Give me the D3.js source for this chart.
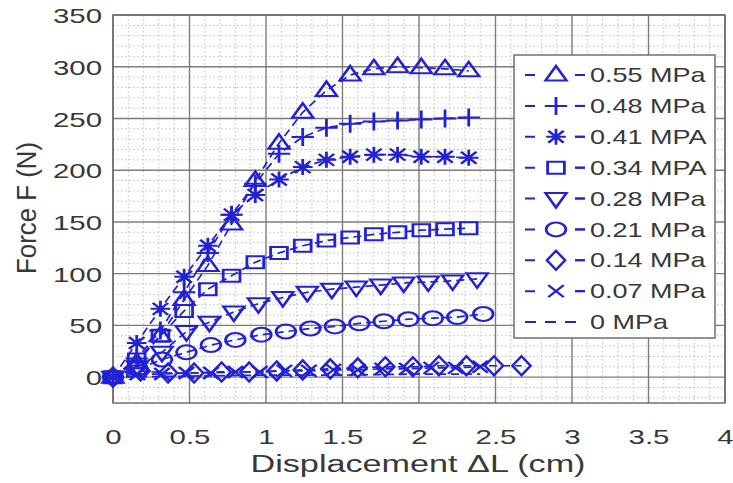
<!DOCTYPE html>
<html><head><meta charset="utf-8">
<script src="https://cdn.jsdelivr.net/npm/d3@7"></script>
<style>body{margin:0;background:#fff}</style>
</head><body>
<svg id="chart" width="733" height="483"></svg>
<script>
// ---- data ----
const xTicks = [0, 0.5, 1, 1.5, 2, 2.5, 3, 3.5, 4];
const xTickLabels = ["0", "0.5", "1", "1.5", "2", "2.5", "3", "3.5", "4"];
const yTicks = [0, 50, 100, 150, 200, 250, 300, 350];
const yTickLabels = ["0", "50", "100", "150", "200", "250", "300", "350"];
const seriesNames = ["0.55 MPa", "0.48 MPa", "0.41 MPA", "0.34 MPA", "0.28 MPa", "0.21 MPa", "0.14 MPa", "0.07 MPa", "0 MPa"];
const seriesMarkers = ["triUp", "plus", "star", "square", "triDown", "circle", "diamond", "cross", "none"];

const x055 = [0, 0.155, 0.31, 0.465, 0.62, 0.775, 0.93, 1.085, 1.24, 1.395, 1.55, 1.705, 1.86, 2.015, 2.17, 2.325];
const y055 = [0, 14, 40, 75, 108, 148, 190, 226, 256, 277, 292, 298, 300, 299, 298, 296];
const x048 = [0, 0.155, 0.31, 0.465, 0.62, 0.775, 0.93, 1.085, 1.24, 1.395, 1.55, 1.705, 1.86, 2.015, 2.17, 2.325];
const y048 = [0, 18, 45, 82, 120, 157, 187, 216, 232, 241, 245, 247, 248, 249, 250, 251];
const x041 = [0, 0.155, 0.31, 0.465, 0.62, 0.775, 0.93, 1.085, 1.24, 1.395, 1.55, 1.705, 1.86, 2.015, 2.17, 2.325];
const y041 = [0, 33, 66, 97, 127, 157, 176, 191, 203, 210, 213, 215, 215, 213, 213, 212];
const x034 = [0, 0.155, 0.31, 0.465, 0.62, 0.775, 0.93, 1.085, 1.24, 1.395, 1.55, 1.705, 1.86, 2.015, 2.17, 2.325];
const y034 = [0, 17, 40, 64, 85, 98, 111, 120, 127, 132, 135, 138, 140, 142, 143, 144];
const x028 = [0, 0.16, 0.32, 0.48, 0.63, 0.79, 0.95, 1.11, 1.27, 1.43, 1.59, 1.75, 1.90, 2.06, 2.22, 2.38];
const y028 = [0, 10, 24, 44, 53, 63, 71, 77, 82, 85, 87, 89, 91, 92, 93, 95];
const x021 = [0, 0.16, 0.32, 0.48, 0.64, 0.80, 0.97, 1.13, 1.29, 1.45, 1.61, 1.77, 1.93, 2.09, 2.25, 2.42];
const y021 = [0, 8, 17, 24, 31, 36, 41, 44, 47, 49, 52, 54, 56, 57, 58, 61];
const x014 = [0, 0.18, 0.36, 0.53, 0.71, 0.89, 1.07, 1.24, 1.42, 1.60, 1.78, 1.96, 2.13, 2.31, 2.49, 2.67];
const y014 = [0, 6, 4, 4, 5, 5, 6, 7, 8, 9, 10, 10, 11, 11, 11, 11];
const x007 = [0, 0.16, 0.32, 0.48, 0.64, 0.80, 0.96, 1.12, 1.28, 1.44, 1.60, 1.76, 1.92, 2.08, 2.24, 2.40];
const y007 = [0, 3, 3, 4, 4, 5, 5, 6, 6, 7, 7, 8, 8, 9, 9, 10];
const x000 = [0, 0.5, 1.0, 1.5, 2.0, 2.4];
const y000 = [0, 1, 2, 2, 3, 3];

const seriesX = [x055, x048, x041, x034, x028, x021, x014, x007, x000];
const seriesY = [y055, y048, y041, y034, y028, y021, y014, y007, y000];

// ---- layout ----
const svg = d3.select("#chart");
const L = 113, R = 725, T = 15, B = 403;
const blue = "#2222d4";
const textCol = "#383838";
const font = "'Liberation Sans', Arial, Helvetica, sans-serif";
const SX = 1.4; // horizontal stretch of the source image

const x = d3.scaleLinear().domain([0, 4]).range([L, R]);
const y = d3.scaleLinear().domain([-25, 350]).range([B, T]);

svg.append("rect").attr("width", 733).attr("height", 483).attr("fill", "#fff");

// minor grid
const g = svg.append("g");
g.selectAll(".mx").data(d3.range(1, 40).map(i => i / 10).filter(v => Math.abs(v * 2 - Math.round(v * 2)) > 1e-6))
  .join("line").attr("x1", d => x(d)).attr("x2", d => x(d)).attr("y1", T).attr("y2", B)
  .attr("stroke", "#bdbdbd").attr("stroke-width", 1).attr("stroke-dasharray", "1.5,2.5");
g.selectAll(".my").data(d3.range(-20, 350, 10).filter(v => v % 50 !== 0))
  .join("line").attr("y1", d => y(d)).attr("y2", d => y(d)).attr("x1", L).attr("x2", R)
  .attr("stroke", "#bdbdbd").attr("stroke-width", 1).attr("stroke-dasharray", "1.5,2.5");
// major grid
g.selectAll(".Mx").data(xTicks).join("line")
  .attr("x1", d => x(d)).attr("x2", d => x(d)).attr("y1", T).attr("y2", B)
  .attr("stroke", "#7c7c7c").attr("stroke-width", 1.4);
g.selectAll(".My").data(yTicks).join("line")
  .attr("y1", d => y(d)).attr("y2", d => y(d)).attr("x1", L).attr("x2", R)
  .attr("stroke", "#7c7c7c").attr("stroke-width", 1.4);

// box
svg.append("rect").attr("x", L).attr("y", T).attr("width", R - L).attr("height", B - T)
  .attr("fill", "none").attr("stroke", "#666").attr("stroke-width", 1.4);

// axes
const xAxis = svg.append("g").attr("transform", `translate(0,${B})`)
  .call(d3.axisBottom(x).tickValues(xTicks).tickFormat((d, i) => xTickLabels[i]).tickSize(0));
xAxis.select(".domain").remove();
xAxis.selectAll("text").attr("y", 41).attr("dy", 0)
  .attr("transform", `scale(${SX},1)`)
  .style("font-family", font).style("font-size", "21px").attr("fill", textCol);

const yAxis = svg.append("g").attr("transform", `translate(${L},0)`)
  .call(d3.axisLeft(y).tickValues(yTicks).tickFormat((d, i) => yTickLabels[i]).tickSize(0));
yAxis.select(".domain").remove();
yAxis.selectAll("text").attr("x", 0).attr("dy", "0.36em")
  .attr("transform", `translate(-11,0) scale(${SX},1)`)
  .style("font-family", font).style("font-size", "21px").attr("fill", textCol);

// axis labels
svg.append("text").attr("x", 418).attr("y", 472).attr("text-anchor", "middle")
  .attr("textLength", 335).attr("lengthAdjust", "spacingAndGlyphs")
  .style("font-family", font).style("font-size", "23px").attr("fill", textCol)
  .text("Displacement \u0394L (cm)");
svg.append("text").attr("transform", "translate(36,208) rotate(-90)")
  .attr("text-anchor", "middle").attr("textLength", 132).attr("lengthAdjust", "spacingAndGlyphs")
  .style("font-family", font).style("font-size", "27px").attr("fill", textCol)
  .text("Force F (N)");

// marker paths (drawn around origin)
function markerPath(type) {
  switch (type) {
    case "triUp": return "M0,-9L7.5,5.5L-7.5,5.5Z";
    case "triDown": return "M0,9L7.5,-5.5L-7.5,-5.5Z";
    case "square": return "M-6,-6H6V6H-6Z";
    case "circle": return "M7,0A7,7 0 1,1 -7,0A7,7 0 1,1 7,0Z";
    case "diamond": return "M0,-9.5L6.5,0L0,9.5L-6.5,0Z";
    case "plus": return "M-8,0H8M0,-9V9";
    case "star": return "M-7,0H7M0,-8V8M-5.5,-6L5.5,6M-5.5,6L5.5,-6";
    case "cross": return "M-5.5,-6L5.5,6M-5.5,6L5.5,-6";
    default: return "";
  }
}

// series
const line = d3.line().x(d => x(d[0])).y(d => y(d[1]));
seriesNames.forEach((name, si) => {
  const pts = seriesX[si].map((v, i) => [v, seriesY[si][i]]);
  const sg = svg.append("g");
  sg.append("path").attr("d", line(pts)).attr("fill", "none").attr("stroke", blue)
    .attr("stroke-width", 1.7).attr("stroke-dasharray", "8,5");
  if (seriesMarkers[si] !== "none") {
    sg.selectAll("path.m").data(pts).join("path").attr("class", "m")
      .attr("d", markerPath(seriesMarkers[si]))
      .attr("transform", d => `translate(${x(d[0])},${y(d[1])}) scale(${SX},1)`)
      .attr("fill", "none").attr("stroke", blue).attr("stroke-width", 2);
  }
});

// legend
const lg = svg.append("g");
lg.append("rect").attr("x", 514).attr("y", 55).attr("width", 201).attr("height", 283)
  .attr("fill", "#fff").attr("stroke", "#666").attr("stroke-width", 1.4);
const ly = d3.scalePoint().domain(seriesNames).range([75, 322]);
seriesNames.forEach((name, si) => {
  const yy = ly(name);
  const hasM = seriesMarkers[si] !== "none";
  lg.append("line").attr("x1", 525).attr("x2", 585).attr("y1", yy).attr("y2", yy)
    .attr("stroke", blue).attr("stroke-width", 2)
    .attr("stroke-dasharray", hasM ? "10,40" : "11,9");
  if (hasM) {
    lg.append("line").attr("x1", 575).attr("x2", 585).attr("y1", yy).attr("y2", yy)
      .attr("stroke", blue).attr("stroke-width", 2);
    lg.append("path").attr("d", markerPath(seriesMarkers[si]))
      .attr("transform", `translate(556,${yy}) scale(${SX},1)`)
      .attr("fill", "none").attr("stroke", blue).attr("stroke-width", 2);
  }
  lg.append("text").attr("transform", `translate(590,${yy}) scale(1.35,1)`)
    .attr("dy", "0.36em").style("font-family", font).style("font-size", "20px")
    .attr("fill", textCol).text(name);
});
</script>
</body></html>
